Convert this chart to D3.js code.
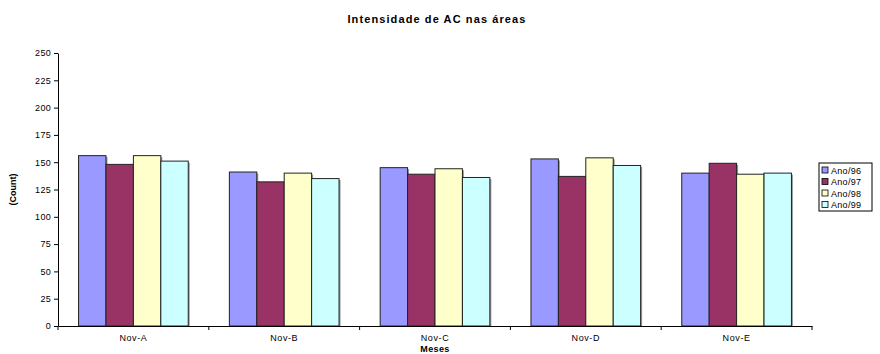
<!DOCTYPE html>
<html>
<head>
<meta charset="utf-8">
<script src="https://cdn.jsdelivr.net/npm/d3@7"></script>
<style>
  body { margin: 0; background: #fff; }
  svg { display: block; font-family: "Liberation Sans", Arial, sans-serif; }
</style>
</head>
<body>
<svg id="chart" width="880" height="354"></svg>
<script>
// Categories and series
const categories = ["Nov-A", "Nov-B", "Nov-C", "Nov-D", "Nov-E"];
const seriesNames = ["Ano/96", "Ano/97", "Ano/98", "Ano/99"];
const ano96 = [156, 141, 145, 153, 140];
const ano97 = [148, 132, 139, 137, 149];
const ano98 = [156, 140, 144, 154, 139];
const ano99 = [151, 135, 136, 147, 140];
const yTicks = [0, 25, 50, 75, 100, 125, 150, 175, 200, 225, 250];
const colors = ["#9999FF", "#993366", "#FFFFCC", "#CCFFFF"];

const seriesValues = [ano96, ano97, ano98, ano99];
const data = categories.map((c, i) => ({
  cat: c,
  vals: seriesNames.map((s, j) => ({ key: s, value: seriesValues[j][i], idx: j }))
}));

const svg = d3.select("#chart");
const margin = { left: 58, right: 68, top: 53, bottom: 28 };

const x = d3.scaleBand()
  .domain(categories)
  .range([margin.left, 812])
  .paddingInner(0)
  .paddingOuter(0);

// gap between groups = 1.5 bar widths
const bw = x.bandwidth() / (seriesNames.length + 1.5);
const xs = d3.scaleBand()
  .domain(seriesNames)
  .range([0.75 * bw, 0.75 * bw + bw * seriesNames.length])
  .padding(0);

const y = d3.scaleLinear().domain([0, 250]).range([326, 53]);

// Title
svg.append("text")
  .attr("x", 437).attr("y", 23)
  .attr("text-anchor", "middle")
  .attr("font-size", 11).attr("font-weight", "bold")
  .attr("letter-spacing", 1.1)
  .text("Intensidade de AC nas áreas");

// Bars
const groups = svg.append("g").selectAll("g")
  .data(data).join("g")
  .attr("transform", d => `translate(${x(d.cat)},0)`);

// soft shadow
groups.selectAll("rect.shadow")
  .data(d => d.vals).join("rect")
  .attr("class", "shadow")
  .attr("x", d => xs(d.key) + 1.5)
  .attr("y", d => y(d.value) + 1.5)
  .attr("width", xs.bandwidth())
  .attr("height", d => y(0) - y(d.value) - 1.5)
  .attr("fill", "#999");

groups.selectAll("rect.bar")
  .data(d => d.vals).join("rect")
  .attr("class", "bar")
  .attr("x", d => xs(d.key))
  .attr("y", d => y(d.value))
  .attr("width", xs.bandwidth())
  .attr("height", d => y(0) - y(d.value))
  .attr("fill", d => colors[d.idx])
  .attr("stroke", "#222")
  .attr("stroke-width", 1);

// Y axis
const yAxis = d3.axisLeft(y).tickValues(yTicks).tickSize(4).tickSizeOuter(0);
const gy = svg.append("g").attr("transform", `translate(${margin.left},0)`).call(yAxis);
gy.select(".domain").attr("stroke", "#000");
gy.selectAll(".tick line").attr("stroke", "#000");
gy.selectAll(".tick text").attr("font-size", 9).attr("fill", "#000")
  .attr("letter-spacing", 0.3)
  .attr("font-family", "Liberation Sans, Arial, sans-serif").attr("x", -7);

// X axis
const xAxis = d3.axisBottom(x).tickSize(0).tickSizeOuter(0);
const gx = svg.append("g").attr("transform", `translate(0,${y(0)})`).call(xAxis);
gx.select(".domain").attr("stroke", "#000");
gx.selectAll(".tick text").attr("font-size", 9).attr("fill", "#000")
  .attr("letter-spacing", 0.6)
  .attr("font-family", "Liberation Sans, Arial, sans-serif").attr("dy", "1.35em");
// category boundary ticks
svg.append("g").selectAll("line")
  .data(categories.concat(["end"]))
  .join("line")
  .attr("x1", (d, i) => i < categories.length ? x(d) : x.range()[1])
  .attr("x2", (d, i) => i < categories.length ? x(d) : x.range()[1])
  .attr("y1", y(0)).attr("y2", y(0) + 4)
  .attr("stroke", "#000");

// Axis titles
svg.append("text")
  .attr("transform", `translate(16,${(y(0) + y(250)) / 2}) rotate(-90)`)
  .attr("text-anchor", "middle")
  .attr("font-size", 9).attr("font-weight", "bold")
  .text("(Count)");

svg.append("text")
  .attr("x", (x.range()[0] + x.range()[1]) / 2).attr("y", 352)
  .attr("text-anchor", "middle")
  .attr("font-size", 9).attr("font-weight", "bold")
  .attr("letter-spacing", 0.4)
  .text("Meses");

// Legend
const lg = svg.append("g").attr("transform", "translate(819,163)");
lg.append("rect").attr("width", 53).attr("height", 48)
  .attr("fill", "#fff").attr("stroke", "#000").attr("stroke-width", 1);
const items = lg.selectAll("g.item").data(seriesNames).join("g")
  .attr("transform", (d, i) => `translate(3,${4 + i * 11.5})`);
items.append("rect").attr("width", 6).attr("height", 6)
  .attr("fill", (d, i) => colors[i]).attr("stroke", "#000").attr("stroke-width", 0.8);
items.append("text").attr("x", 9).attr("y", 6.5)
  .attr("font-size", 9).attr("letter-spacing", 0.3).text(d => d);
</script>
</body>
</html>
